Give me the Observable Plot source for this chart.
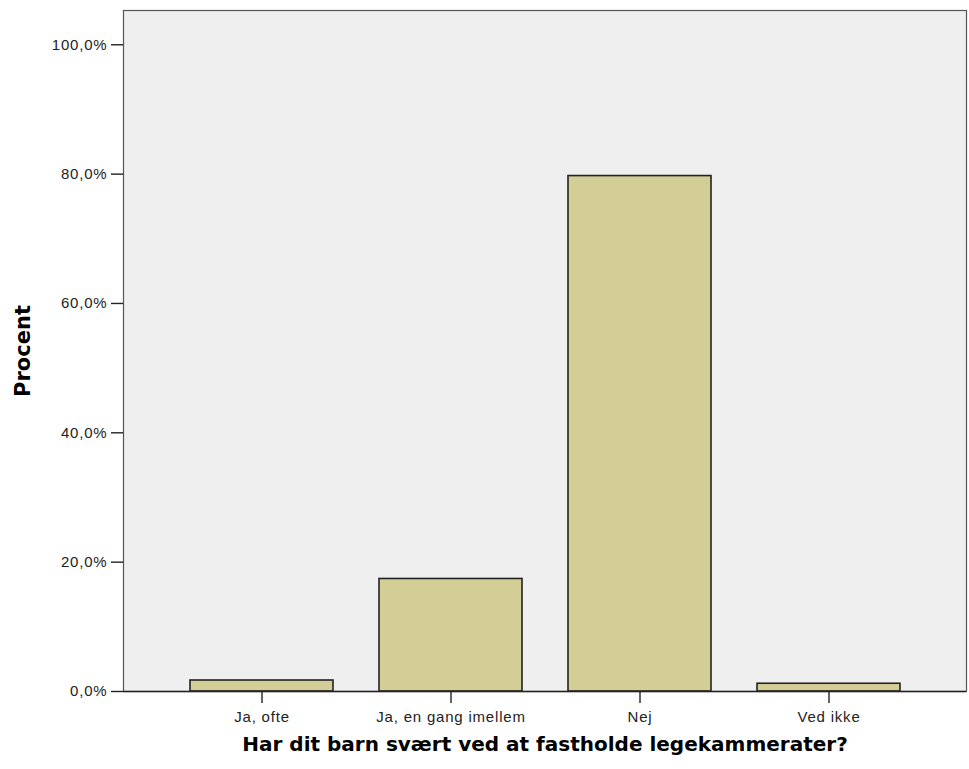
<!DOCTYPE html>
<html>
<head>
<meta charset="utf-8">
<script src="https://cdn.jsdelivr.net/npm/d3@7"></script>
<script src="https://cdn.jsdelivr.net/npm/@observablehq/plot@0.6"></script>
<style>
  html, body { margin: 0; padding: 0; background: #fff; }
  #chart svg { display: block; }
  #chart g[aria-label="x-axis tick label"] text,
  #chart g[aria-label="y-axis tick label"] text { letter-spacing: 0.8px; }
</style>
</head>
<body>
<div id="chart"></div>
<script>
const categories = ["Ja, ofte", "Ja, en gang imellem", "Nej", "Ved ikke"];
const percents = [1.7, 17.4, 79.7, 1.2];
const yTicks = [0, 20, 40, 60, 80, 100];
const xTitle = "Har dit barn svært ved at fastholde legekammerater?";
const yTitle = "Procent";

const data = categories.map((c, i) => ({category: c, value: percents[i]}));
const fmt = d => d.toFixed(1).replace(".", ",") + "%";

const chart = Plot.plot({
  width: 969,
  height: 769,
  marginLeft: 123,
  marginRight: 3,
  marginTop: 10,
  marginBottom: 78,
  style: {fontFamily: "'Liberation Sans', Arial, sans-serif", fontSize: "15px", color: "#222", background: "#fff"},
  x: {domain: categories, paddingInner: 0.245, paddingOuter: 0.35, label: null},
  y: {domain: [0, 105.3], label: null},
  marks: [
    Plot.frame({fill: "#efefef", stroke: "none"}),
    Plot.barY(data, {x: "category", y: "value", fill: "#d3ce96", stroke: "#222", strokeWidth: 1.6}),
    Plot.frame({stroke: "#555", strokeWidth: 1.2, fill: "none"}),
    Plot.ruleX([0], {frameAnchor: "left", stroke: "#333", strokeWidth: 1.4}),
    Plot.ruleY([0], {stroke: "#222", strokeWidth: 1.6}),
    Plot.axisY({ticks: yTicks, tickFormat: fmt, tickSize: 12, tickPadding: 4, stroke: "#222", strokeWidth: 1.4, fontSize: 15, fill: "#222", label: null}),
    Plot.axisX({tickSize: 12, tickPadding: 8, stroke: "#222", strokeWidth: 1.4, fontSize: 15, fill: "#222", label: null}),
    Plot.text([xTitle], {text: d => d, frameAnchor: "bottom", dy: 59, fontSize: 20, fontWeight: "bold", fill: "#000", fontFamily: "'DejaVu Sans', Verdana, sans-serif"}),
    Plot.text([yTitle], {text: d => d, frameAnchor: "left", textAnchor: "middle", dx: -100, rotate: -90, fontSize: 21, fontWeight: "bold", fill: "#000", fontFamily: "'DejaVu Sans', Verdana, sans-serif"})
  ]
});
document.getElementById("chart").appendChild(chart);
</script>
</body>
</html>
